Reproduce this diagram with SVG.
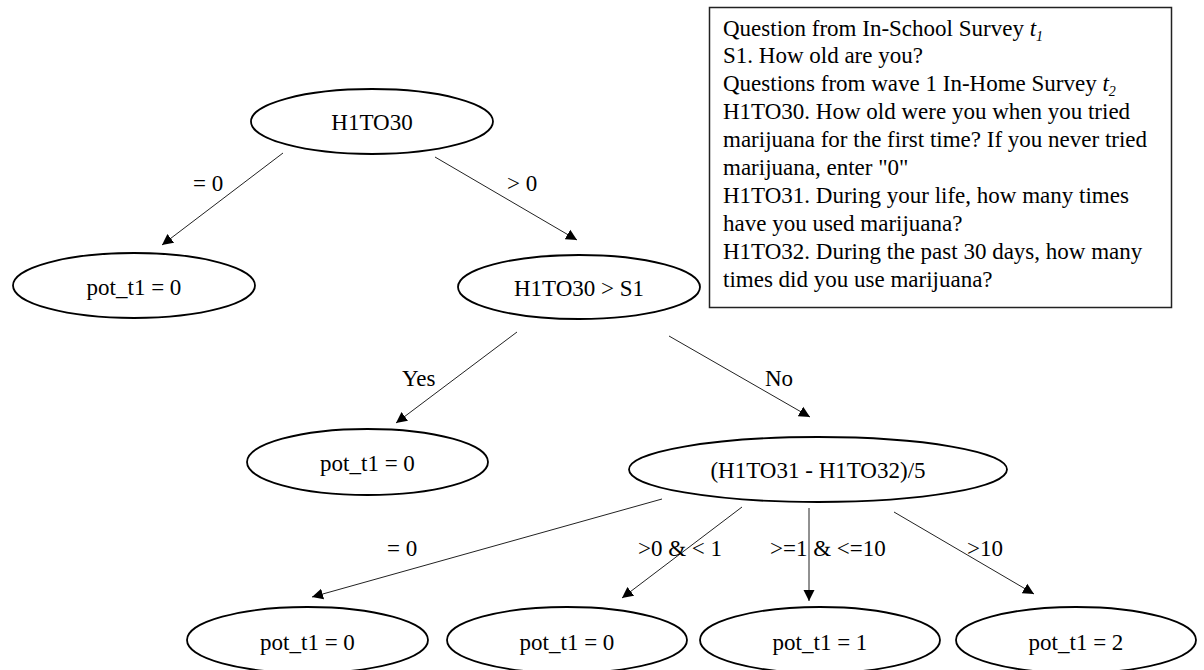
<svg xmlns="http://www.w3.org/2000/svg" width="1204" height="670" viewBox="0 0 1204 670" font-family="Liberation Serif, Tinos, Times New Roman, DejaVu Serif, serif">
<style>
text{font-family:'Liberation Serif','Tinos','Times New Roman','Nimbus Roman','DejaVu Serif',serif;font-size:23px;fill:#000}
.node ellipse{fill:#fff;stroke:#000;stroke-width:1.8}
.node text{text-anchor:middle}
.edge line{stroke:#222;stroke-width:1}
.note rect{fill:#fff;stroke:#222;stroke-width:1.5}
</style>
<defs>
<marker id="arr" markerUnits="userSpaceOnUse" markerWidth="12" markerHeight="12" refX="11" refY="6" orient="auto">
<path d="M0,0.5 L11,6 L0,11.5 z" fill="#000"/>
</marker>
</defs>
<rect width="1204" height="670" fill="#fff"/>
<g id="connectors" class="edge">
<line x1="283" y1="153" x2="162" y2="245" marker-end="url(#arr)"/>
<line x1="435" y1="157" x2="577" y2="240" marker-end="url(#arr)"/>
<line x1="517" y1="332" x2="396" y2="423" marker-end="url(#arr)"/>
<line x1="669" y1="336" x2="810" y2="417" marker-end="url(#arr)"/>
<line x1="662" y1="499" x2="312" y2="597" marker-end="url(#arr)"/>
<line x1="742" y1="507" x2="622" y2="598" marker-end="url(#arr)"/>
<line x1="809" y1="508" x2="809" y2="601" marker-end="url(#arr)"/>
<line x1="894" y1="512" x2="1034" y2="594" marker-end="url(#arr)"/>
<text x="193" y="191">= 0</text>
<text x="507" y="191">&gt; 0</text>
<text x="402" y="386">Yes</text>
<text x="765" y="386">No</text>
<text x="387" y="556">= 0</text>
<text x="638" y="556">&gt;0 &amp; &lt; 1</text>
<text x="770" y="556">&gt;=1 &amp; &lt;=10</text>
<text x="967" y="556">&gt;10</text>
</g>
<g id="n_h1to30" class="node"><ellipse cx="372" cy="121.5" rx="121" ry="32.5"/><text x="372" y="130">H1TO30</text></g>
<g id="n_pot_a" class="node"><ellipse cx="134" cy="285.5" rx="121" ry="32.5"/><text x="134" y="295">pot_t1 = 0</text></g>
<g id="n_cmp" class="node"><ellipse cx="579" cy="287" rx="121" ry="32"/><text x="579" y="296">H1TO30 &gt; S1</text></g>
<g id="n_pot_b" class="node"><ellipse cx="367.5" cy="462" rx="120.5" ry="33"/><text x="367.5" y="471">pot_t1 = 0</text></g>
<g id="n_ratio" class="node"><ellipse cx="818" cy="469.5" rx="189" ry="32.5"/><text x="818" y="478">(H1TO31 - H1TO32)/5</text></g>
<g id="n_pot_c" class="node"><ellipse cx="307.5" cy="640" rx="120.5" ry="33"/><text x="307.5" y="650">pot_t1 = 0</text></g>
<g id="n_pot_d" class="node"><ellipse cx="567" cy="640" rx="120" ry="33"/><text x="567" y="650">pot_t1 = 0</text></g>
<g id="n_pot_e" class="node"><ellipse cx="820" cy="640" rx="120" ry="33"/><text x="820" y="650">pot_t1 = 1</text></g>
<g id="n_pot_f" class="node"><ellipse cx="1076" cy="640" rx="120" ry="33"/><text x="1076" y="650">pot_t1 = 2</text></g>
<g id="note" class="note">
<rect x="709.5" y="7.5" width="462" height="300"/>
<text x="723" y="35.5">Question from In-School Survey <tspan font-style="italic">t</tspan><tspan font-style="italic" font-size="14" dy="5">1</tspan></text>
<text x="723" y="63.4">S1. How old are you?</text>
<text x="723" y="91.3">Questions from wave 1 In-Home Survey <tspan font-style="italic">t</tspan><tspan font-style="italic" font-size="14" dy="5">2</tspan></text>
<text x="723" y="119.2">H1TO30. How old were you when you tried</text>
<text x="723" y="147.1">marijuana for the first time? If you never tried</text>
<text x="723" y="175">marijuana, enter "0"</text>
<text x="723" y="202.9">H1TO31. During your life, how many times</text>
<text x="723" y="230.8">have you used marijuana?</text>
<text x="723" y="258.7">H1TO32. During the past 30 days, how many</text>
<text x="723" y="286.6">times did you use marijuana?</text>
</g>
</svg>
